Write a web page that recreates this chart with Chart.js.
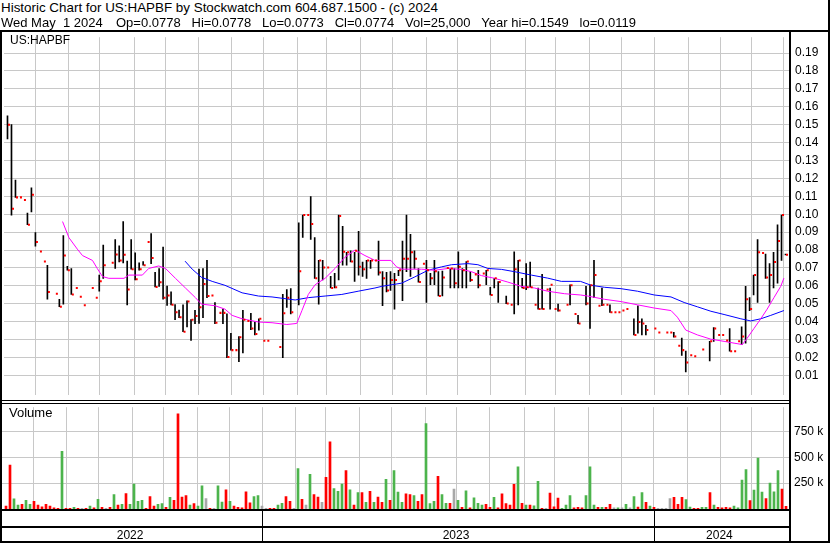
<!DOCTYPE html>
<html>
<head>
<meta charset="utf-8">
<script src="https://cdn.jsdelivr.net/npm/chart.js@4.4.1/dist/chart.umd.min.js"></script>
<style>
  body { margin: 0; background: #fff; }
  #wrap { position: relative; width: 830px; height: 543px; overflow: hidden; background: #fff;
          font-family: "Liberation Sans", Arial, sans-serif; font-size: 12px; color: #000; }
  .txt { position: absolute; white-space: pre; line-height: 15px; z-index: 6; }
  .ln { position: absolute; background: #000; z-index: 5; }
  canvas { position: absolute; }
</style>
</head>
<body>
<div id="wrap">
  <div class="txt" id="title" style="left:1px;top:0;font-size:13.4px"></div>
  <div class="txt" id="qdate" style="left:1px;top:15px;font-size:13px"></div>
  <div class="txt" id="quote" style="left:116px;top:15px;font-size:13px"></div>
  <div class="txt" id="sym" style="left:10px;top:33px"></div>
  <div class="txt" style="left:9px;top:405px;font-size:13px">Volume</div>
  <canvas id="price" style="left:0;top:24px;width:830px;height:384px" width="830" height="384"></canvas>
  <canvas id="vol" style="left:0;top:395px;width:830px;height:148px" width="830" height="148"></canvas>
  <div class="ln" style="left:0;top:30px;width:830px;height:2px"></div>
  <div class="ln" style="left:0;top:30px;width:2px;height:513px"></div>
  <div class="ln" style="left:789px;top:30px;width:2px;height:513px"></div>
  <div class="ln" style="left:828px;top:0;width:2px;height:543px"></div>
  <div class="ln" style="left:0;top:400px;width:791px;height:1px"></div>
  <div class="ln" style="left:0;top:403px;width:791px;height:1px"></div>
  <div class="ln" style="left:0;top:509px;width:791px;height:2px"></div>
  <div class="ln" style="left:0;top:526px;width:791px;height:2px"></div>
  <div class="ln" style="left:0;top:541px;width:830px;height:2px"></div>
</div>
<script>
// header / quote line
const titleText = 'Historic Chart for US:HAPBF by Stockwatch.com 604.687.1500 - (c) 2024';
const symbol = 'US:HAPBF';
const quoteDate = 'Wed May\u00a0\u00a01 2024';
const quoteFields = ['Op=0.0778', 'Hi=0.0778', 'Lo=0.0773', 'Cl=0.0774',
  'Vol=25,000', 'Year hi=0.1549', 'lo=0.0119'];

// one slot = about half a week of trading (4 px in the original)
const hi = [
  .155, .150, .119, null, null, .1006, .1147, .0897, null, null,
  .0715, null, null, .0525, .0881, .0709, .0697, null, null, null,
  null, null, null, .066, .0827, null, null, .0859, .0823, .0959,
  .0738, .0859, .0784, .0729, .0736, null, .0892, .0675, .0697, .0816,
  .0599, .0566, .0496, .0465, .0494, .0516, .0411, .0463, .0693, .0697,
  .0742, null, .0507, null, .047, .0443, .0335, null, .0317, .0463,
  null, .0447, .0398, .0416, null, null, null, null, null, .0552,
  .0579, .0584, null, .0952, .0995, null, .1098, .087, .0742, .0742,
  null, .0653, .067, .0995, .0932, .0787, .0796, .0787, .0904, .0733,
  .0742, .0742, null, .085, .068, .0675, .0679, .067, .0687, .085,
  .0995, .0887, .0796, .0697, null, .0742, .067, .0742, .0679, .0682,
  null, .0697, .0697, .079, .0697, .0736, .0679, null, .0687, null,
  .0687, .0592, .0642, .0624, null, .0543, null, .079, .0742, .0642,
  .0724, .0733, null, .0588, .0664, null, .0588, null, .0498, null,
  null, .0606, null, .0435, null, .0597, .0606, .0742, null, .0588,
  null, .0494, null, null, null, null, null, .0416, .0489, .0416,
  .038, null, null, null, null, null, null, .034, null, .0308,
  .0236, null, null, null, null, null, .029, .0367, null, null,
  null, .0362, null, null, .0371, .0597, .0534, .066, .0859, null,
  .0778, .0724, .0787, .0941, .0995, .0778
];
const lo = [
  .142, .0995, .1094, null, null, .0941, .1013, .0822, null, null,
  .0525, null, null, .0483, .0498, .0687, .0552, null, null, null,
  null, null, null, .057, .0642, null, null, .0697, .0733, .0728,
  .0494, .0693, .0633, .0687, .0715, null, .0724, .0594, .0597, .0525,
  .0491, .0494, .0411, .0422, .0344, .0371, .0295, .0389, .039, .0422,
  .0534, null, .0389, null, .0389, .0199, .0241, null, .0177, .0226,
  null, .0355, .0326, .0353, null, null, null, null, null, .0199,
  .048, .0443, null, .0494, .087, null, .0859, .0642, .0498, .0633,
  null, .0588, .0588, .0633, .0715, .0715, .0733, .0624, .066, .0652,
  .0642, .0697, null, .066, .0489, .0566, .0574, .047, .0657, .0517,
  .0679, .0652, .0697, .0621, null, .0507, .0606, .0606, .0543, .0543,
  null, .0588, .0588, .0588, .0588, .0588, .0624, null, .0588, null,
  .0606, .0549, .0588, .0507, null, .0501, null, .0443, .0494, .0588,
  .0579, .0592, null, .047, .047, null, .047, null, .0458, null,
  null, .0494, null, .0389, null, .0494, .0362, .0534, null, .0489,
  null, .0452, null, null, null, null, null, .0326, .0335, .0326,
  .0326, null, null, null, null, null, null, .0313, null, .0212,
  .0119, null, null, null, null, null, .0181, .029, null, null,
  null, .0235, null, null, .0272, .028, .0462, .0549, .0507, null,
  .0642, .0507, .0588, .0615, .0742, .0773
];
const cl = [
  .150, .103, .1094, .1094, .108, .0941, .1109, .0845, .0792, .0736,
  .0566, null, .0556, .0483, .0769, .0687, .0552, .0588, .0539, .0492,
  null, .0588, .0534, .0625, .0715, null, .0729, .0775, .0742, .0774,
  .0579, .0693, .0637, .0693, .0715, .0845, .0755, .0594, .062, .0534,
  .0546, .0494, .0452, .0425, .0344, .0512, .0411, .0431, .048, .061,
  .0543, .0546, .0394, .0449, .0449, .0203, .0241, .0241, .0313, .0411,
  .0404, .0362, .0331, .0416, .0294, .0294, null, null, .0259, .0447,
  .0534, .0452, null, .0682, .0995, .0995, .0945, .0642, .0742, .0702,
  .0702, .0588, .0592, .099, .079, .0787, .0736, .0796, .0706, .0693,
  .0742, .0742, .0742, .0675, .0642, .0574, .0633, .0633, .0687, .0751,
  .0751, .0787, .0751, .0621, .0724, .0687, .0642, .0682, .0543, .0646,
  .07, .0697, .0615, .0706, .0687, .0736, .0633, .0664, .0603, .0669,
  .0687, .0549, .0642, .0621, null, .0501, .0494, .0693, .0742, .0588,
  .0592, .0592, .0494, .047, .047, .0579, .0606, .047, .0462, null,
  .0494, .0603, .0443, .0389, null, .0501, .0603, .066, .0489, .0494,
  .0494, .0452, .0452, .0452, .0462, .047, null, .0326, .0398, .0389,
  .0353, null, .0362, .034, null, .034, .034, .0317, .0266, .0241,
  .0172, .0212, .0207, null, .0245, null, .029, .0362, .0326, .0326,
  .0295, .0235, .0235, .029, .0317, .0525, .047, .066, .0787, .0784,
  .0646, .066, .0733, .085, .0995, .0774
];

// volume in thousands, direction: 1 up, -1 down, 0 unchanged
const volK = [
  28, 425, 99, 37, 46, 84, 46, 74, 37, 22,
  46, 28, 12, 6, 558, 6, 6, 15, 6, 6,
  6, 28, 12, 93, 15, 6, 15, 140, 37, 46,
  149, 46, 242, 74, 84, 6, 121, 28, 46, 53,
  15, 112, 84, 921, 115, 130, 37, 53, 28, 223,
  102, 6, 6, 223, 68, 186, 74, 28, 15, 12,
  167, 59, 121, 130, 28, 6, 6, 6, 37, 56,
  121, 74, 6, 391, 93, 37, 335, 140, 115, 65,
  307, 651, 198, 170, 242, 372, 186, 37, 158, 158,
  65, 170, 65, 115, 65, 288, 84, 372, 164, 65,
  146, 139, 130, 74, 139, 827, 53, 74, 316, 140,
  56, 56, 192, 84, 15, 177, 12, 108, 56, 37,
  46, 15, 112, 12, 146, 53, 37, 239, 409, 56,
  37, 37, 31, 267, 6, 6, 155, 22, 105, 6,
  37, 130, 12, 15, 12, 130, 409, 37, 15, 15,
  15, 46, 12, 12, 12, 46, 12, 121, 18, 158,
  65, 28, 15, 6, 6, 6, 102, 112, 46, 112,
  90, 18, 6, 6, 15, 15, 158, 37, 15, 12,
  15, 12, 28, 12, 279, 381, 81, 183, 493, 164,
  102, 251, 167, 372, 192, 25
];
const volDir = [
  -1, -1, 1, 1, -1, 1, 1, -1, -1, -1,
  -1, -1, -1, -1, 1, -1, -1, 1, -1, 0,
  -1, 1, -1, 1, -1, 0, -1, 1, -1, 1,
  -1, 1, 1, 1, 1, -1, -1, -1, 1, 1,
  -1, 1, -1, -1, -1, -1, 1, -1, 1, 1,
  0, -1, 0, 1, 1, -1, 1, -1, -1, -1,
  -1, -1, 1, 1, 0, 0, -1, -1, 1, 1,
  -1, -1, 0, 1, -1, 0, 1, -1, -1, 0,
  -1, -1, 1, 1, 1, -1, 1, -1, 1, -1,
  1, -1, 1, -1, -1, 1, -1, 1, 1, 1,
  -1, -1, 1, -1, -1, 1, 1, 1, -1, 1,
  1, -1, 0, 1, -1, 1, -1, 1, 1, 1,
  -1, -1, 1, -1, -1, -1, -1, -1, 1, -1,
  1, -1, 1, 1, -1, 0, -1, -1, -1, 1,
  1, 1, -1, -1, -1, 1, 1, 1, -1, 1,
  -1, -1, 0, 1, 0, 1, 0, 1, -1, 1,
  -1, 1, -1, 0, 0, 0, 0, -1, -1, -1,
  1, 1, -1, -1, 1, 1, -1, 1, -1, -1,
  -1, -1, 1, 1, 1, 1, -1, 1, 1, 1,
  -1, 1, 1, 1, -1, -1
];

// moving averages (slot position, value)
const pinkPos = [14.3, 15.9, 18, 19.3, 21.8, 23, 24.3, 25.9, 29.7, 30.9, 34.3, 35.9, 38.4, 40.1, 42.6,
  45.1, 47.6, 49.1, 52.5, 55, 56.8, 59.3, 63.4, 66.8, 70.5, 73, 74.3, 75.9, 77.6, 80.1, 82.6, 85.1,
  87.6, 90.1, 92.6, 96.6, 98, 99.3, 104.3, 107.6, 110.9, 114.3, 116.8, 119.3, 122.6, 125.9, 129.3,
  132.6, 135.9, 140.1, 144.1, 145.9, 150.1, 154.3, 158.4, 162.6, 166.8, 168.4, 170.5, 173.4, 176.8,
  180.1, 182.6, 184.7, 185.9, 187.6, 189.3, 190.9, 192.6, 194.3, 195.1];
const pinkVal = [.0959, .0869, .0805, .0769, .0742, .0697, .0652, .0642, .0642, .066, .066, .0697, .0711,
  .0697, .0642, .0588, .0534, .0498, .0489, .047, .0435, .0416, .0398, .0394, .0384, .039, .0462, .0552,
  .0606, .0642, .0697, .076, .080, .0769, .0742, .0742, .0706, .0693, .0693, .0687, .0697, .0692, .0679,
  .0657, .0642, .0621, .0597, .0588, .057, .0556, .0549, .0543, .0525, .0512, .0494, .0476, .0462,
  .0425, .0353, .0326, .0302, .029, .028, .0272, .0308, .0362, .0416, .047, .0534, .0597, .0643];
const bluePos = [45, 46.8, 49.1, 51.8, 55, 59.3, 63.4, 66.8, 72.6, 75.9, 80.1, 84.3, 88.4, 92.6, 94.3,
  99.3, 102.6, 105.9, 109.3, 111.8, 115.9, 118.4, 120.9, 124.3, 127.6, 131.8, 135.9, 139.3, 144.1,
  146.8, 150.1, 154.3, 158.4, 162.6, 166.8, 170.1, 173.4, 176.8, 180.1, 184.3, 186.8, 189.3, 191.8, 195.1];
const blueVal = [.0738, .0693, .0648, .0625, .0603, .0561, .0543, .0538, .0521, .0534, .0543, .0552, .057,
  .0588, .0597, .0615, .065, .0687, .0706, .0718, .0724, .0718, .0697, .0692, .0679, .066, .0643, .0625,
  .0625, .0603, .0592, .0584, .057, .0549, .0538, .0507, .0483, .0458, .044, .0416, .0404, .0416, .0435, .0462];

const monthStarts = [7.58, 15.75, 23.68, 32.33, 40.08, 48.43, 56.58, 64.68, 73.08, 80.58, 88.93, 96.93,
  105.5, 113.25, 121.58, 130.25, 137.83, 146.33, 154.5, 162.58, 171.08, 179.25, 186.93, 194.93];
const years = ['2022', '2023', '2024'];
const yearStarts = [64.68, 162.58];
const priceTicks = [0.01, 0.02, 0.03, 0.04, 0.05, 0.06, 0.07, 0.08, 0.09, 0.10, 0.11, 0.12, 0.13,
  0.14, 0.15, 0.16, 0.17, 0.18, 0.19];
const volTicks = [250, 500, 750];

document.getElementById('title').textContent = titleText;
document.getElementById('sym').textContent = symbol;
document.getElementById('qdate').textContent = quoteDate;
document.getElementById('quote').textContent = quoteFields.join('\u00a0\u00a0\u00a0');

Chart.defaults.font.family = '"Liberation Sans", Arial, sans-serif';
Chart.defaults.font.size = 12;
Chart.defaults.color = '#000';

const GRID = '#c8c8c8';
// 196.75 slots over 787 px -> 4 px per slot
const X_MIN = -0.375, X_MAX = 196.375;

function xAxis() {
  return {
    type: 'linear', min: X_MIN, max: X_MAX, offset: false,
    grid: { color: GRID, drawTicks: false, offset: false },
    border: { display: false },
    ticks: { display: false },
    afterBuildTicks: s => { s.ticks = monthStarts.map(v => ({ value: v })); },
    afterFit: s => { s.height = 0; }
  };
}

const rangeData = [];
hi.forEach((h, i) => {
  if (h != null) rangeData.push({ x: i + 0.5, y: [lo[i], h] });
});
const closeData = [];
cl.forEach((c, i) => {
  if (c != null) closeData.push({ x: i + 0.875, y: c });
});

new Chart(document.getElementById('price'), {
  type: 'scatter',
  data: {
    datasets: [
      {
        type: 'bar', data: rangeData, backgroundColor: '#000', barThickness: 1,
        grouped: false, order: 3
      },
      {
        type: 'line', data: pinkPos.map((p, i) => ({ x: p, y: pinkVal[i] })),
        borderColor: '#ff00ff', borderWidth: 1, pointRadius: 0, tension: 0, order: 2
      },
      {
        type: 'line', data: bluePos.map((p, i) => ({ x: p, y: blueVal[i] })),
        borderColor: '#0000ff', borderWidth: 1, pointRadius: 0, tension: 0, order: 2
      },
      {
        type: 'scatter', data: closeData, pointStyle: 'rect', pointRadius: 1.42,
        backgroundColor: '#ff0000', borderWidth: 0, order: 1
      }
    ]
  },
  options: {
    responsive: false,
    animation: false,
    events: [],
    layout: { padding: { left: 2, right: 0, top: 8, bottom: 8 } },
    plugins: { legend: { display: false }, tooltip: { enabled: false } },
    scales: {
      x: xAxis(),
      y: {
        type: 'linear', position: 'right', min: -0.00085, max: 0.19885,
        grid: { color: GRID, drawTicks: false },
        border: { display: false },
        ticks: { padding: 6, callback: v => v.toFixed(2) },
        afterBuildTicks: s => { s.ticks = priceTicks.map(v => ({ value: v })); },
        afterFit: s => { s.width = 41; }
      }
    }
  }
});

const yearBand = {
  id: 'yearBand',
  afterDraw(chart) {
    const { ctx, scales: { x }, chartArea } = chart;
    const top = chartArea.bottom + 1;
    ctx.save();
    ctx.fillStyle = '#000';
    ctx.font = '12px "Liberation Sans", Arial, sans-serif';
    ctx.textAlign = 'center';
    ctx.textBaseline = 'alphabetic';
    const edges = [X_MIN, ...yearStarts, X_MAX];
    years.forEach((yr, k) => {
      const a = x.getPixelForValue(edges[k]);
      const b = x.getPixelForValue(edges[k + 1]);
      ctx.fillText(yr, (a + b) / 2 - 2, top + 29);
    });
    yearStarts.forEach(v => {
      ctx.fillRect(Math.round(x.getPixelForValue(v)), top, 1, 32);
    });
    ctx.restore();
  }
};

new Chart(document.getElementById('vol'), {
  type: 'bar',
  data: {
    datasets: [{
      data: volK.map((v, i) => ({ x: i + 0.625, y: v })),
      backgroundColor: volDir.map(d => d > 0 ? '#4cb44c' : d < 0 ? '#ff0000' : '#a8a8a8'),
      barThickness: 2, grouped: false
    }]
  },
  options: {
    responsive: false,
    animation: false,
    events: [],
    layout: { padding: { left: 2, right: 0, top: 8, bottom: 34 } },
    plugins: { legend: { display: false }, tooltip: { enabled: false } },
    scales: {
      x: xAxis(),
      y: {
        type: 'linear', position: 'right', min: 0, max: 985,
        grid: { color: GRID, drawTicks: false },
        border: { display: false },
        ticks: { padding: 5, callback: v => v + ' k' },
        afterBuildTicks: s => { s.ticks = volTicks.map(v => ({ value: v })); },
        afterFit: s => { s.width = 41; }
      }
    }
  },
  plugins: [yearBand]
});
</script>
</body>
</html>
